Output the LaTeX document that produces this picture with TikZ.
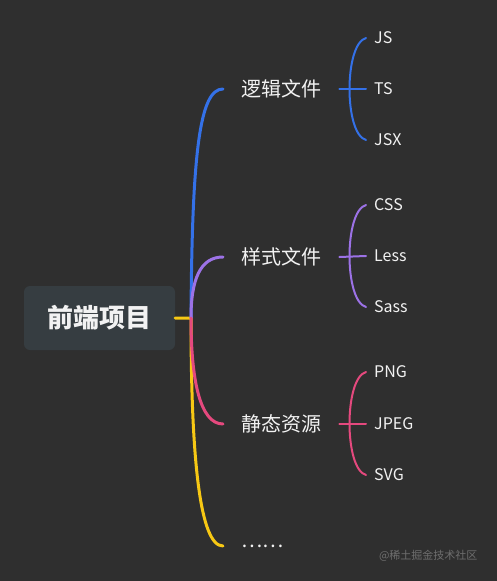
\documentclass[tikz,border=0pt]{standalone}
\usepackage{fontspec}
\setmainfont{Noto Sans CJK SC}
\usetikzlibrary{positioning}
\definecolor{bgdark}{HTML}{2F2F2F}
\definecolor{rootfill}{HTML}{363D41}
\definecolor{inktext}{HTML}{F2F2F2}
\definecolor{markgrey}{HTML}{6E6E6E}
\definecolor{logicblue}{HTML}{3471E8}
\definecolor{stylepurple}{HTML}{9C72E6}
\definecolor{assetpink}{HTML}{E5497E}
\definecolor{moreyellow}{HTML}{F7C814}

\begin{document}
\begin{tikzpicture}[
    x=1pt, y=-1pt,
    root/.style={rectangle, fill=rootfill, rounded corners=6pt,
      minimum width=151pt, minimum height=64pt, text=inktext,
      font=\fontsize{26}{30}\selectfont\bfseries},
    topic/.style={anchor=west, inner xsep=18pt, inner ysep=0pt,
      text=inktext, font=\fontsize{20}{24}\selectfont},
    leaf/.style={anchor=west, inner xsep=8pt, inner ysep=0pt,
      text=inktext, font=\fontsize{16}{19}\selectfont},
    branch/.style={line width=3pt, line cap=round},
    twig/.style={line width=2pt, line cap=round},
  ]
  \useasboundingbox[fill=bgdark] (0,0) rectangle (497,581);

  % root and junction
  \node[root] (root) at (99.5,318) {前端项目};
  \coordinate (hub) at (191,318);

  % topics
  \node[topic] (logic) at (223,89) {逻辑文件};
  \node[topic] (style) at (223,257) {样式文件};
  \node[topic] (asset) at (223,424) {静态资源};
  \node[topic] (more) at (223,546) {……};

  % leaves
  \node[leaf] (js) at (366,38) {JS};
  \node[leaf] (ts) at (366,89) {TS};
  \node[leaf] (jsx) at (366,140) {JSX};
  \node[leaf] (css) at (366,205) {CSS};
  \node[leaf] (less) at (366,256) {Less};
  \node[leaf] (sass) at (366,307) {Sass};
  \node[leaf] (png) at (366,372) {PNG};
  \node[leaf] (jpeg) at (366,424) {JPEG};
  \node[leaf] (svg) at (366,475) {SVG};

  % main branches
  \draw[branch, moreyellow] (root.east) -- (hub)
    .. controls (191,460) and (200,546) .. (more.west);
  \draw[branch, logicblue] (hub)
    .. controls (192,150) and (200,89) .. (logic.west);
  \draw[branch, stylepurple] (hub)
    .. controls (191,280) and (200,257) .. (style.west);
  \draw[branch, assetpink] (hub)
    .. controls (191,380) and (200,424) .. (asset.west);

  % leaf braces
  \draw[twig, logicblue] (logic.east) -- (ts.west);
  \draw[twig, logicblue] (js.west)
    .. controls (344,44) and (344,134) .. (jsx.west);
  \draw[twig, stylepurple] (style.east) -- (less.west);
  \draw[twig, stylepurple] (css.west)
    .. controls (344,211) and (344,301) .. (sass.west);
  \draw[twig, assetpink] (asset.east) -- (jpeg.west);
  \draw[twig, assetpink] (png.west)
    .. controls (344,378) and (344,469) .. (svg.west);

  % watermark
  \node[anchor=east, text=markgrey, font=\fontsize{11}{13}\selectfont]
    (mark) at (481,556) {@稀土掘金技术社区};
\end{tikzpicture}
\end{document}
